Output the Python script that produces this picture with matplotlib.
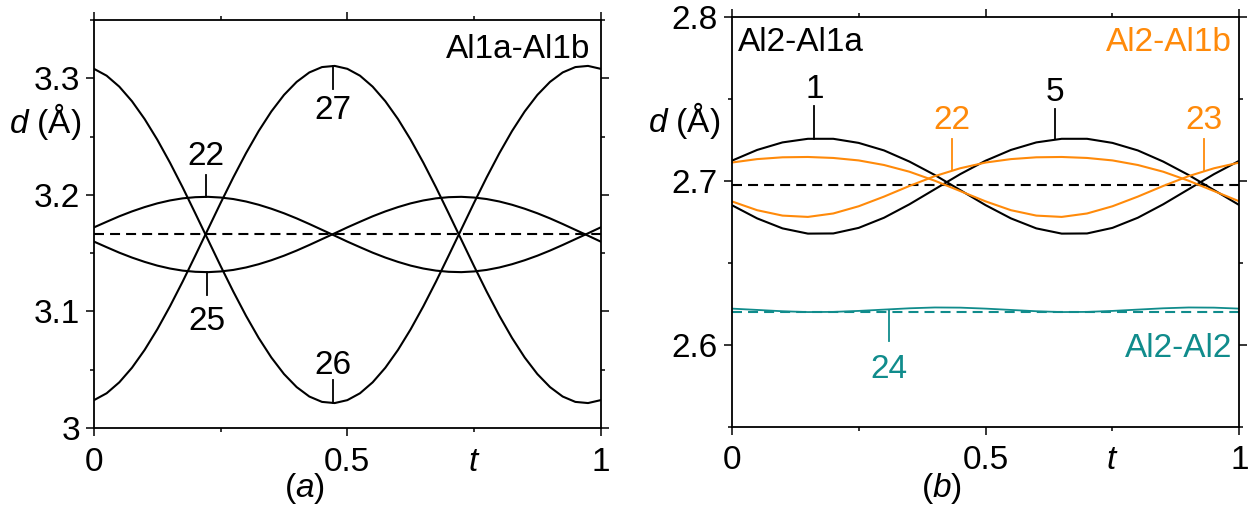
import matplotlib
matplotlib.use("Agg")
import matplotlib.pyplot as plt
from matplotlib.ticker import FixedLocator, FixedFormatter
import matplotlib.transforms as mtransforms

plt.rcParams['font.family'] = ['Liberation Sans', 'DejaVu Sans']
plt.rcParams['mathtext.fontset'] = 'custom'
plt.rcParams['mathtext.rm'] = 'Liberation Sans'
plt.rcParams['mathtext.it'] = 'Liberation Sans:italic'

# ---------------- data: panel (a) Al1a-Al1b ----------------
t_a = [0.0, 0.025, 0.05, 0.075, 0.1, 0.125, 0.15, 0.175, 0.2, 0.225,
       0.25, 0.275, 0.3, 0.325, 0.35, 0.375, 0.4, 0.425, 0.45, 0.475,
       0.5, 0.525, 0.55, 0.575, 0.6, 0.625, 0.65, 0.675, 0.7, 0.725,
       0.75, 0.775, 0.8, 0.825, 0.85, 0.875, 0.9, 0.925, 0.95, 0.975, 1.0]
d27 = [3.0239, 3.0298, 3.0392, 3.0517, 3.0670, 3.0847, 3.1044, 3.1256, 3.1479, 3.1705,
       3.1931, 3.2150, 3.2357, 3.2547, 3.2715, 3.2857, 3.2969, 3.3050, 3.3096, 3.3106,
       3.3081, 3.3022, 3.2928, 3.2803, 3.2650, 3.2473, 3.2276, 3.2064, 3.1841, 3.1615,
       3.1389, 3.1170, 3.0963, 3.0773, 3.0605, 3.0463, 3.0351, 3.0270, 3.0224, 3.0214, 3.0239]
d26 = [3.3081, 3.3022, 3.2928, 3.2803, 3.2650, 3.2473, 3.2276, 3.2064, 3.1841, 3.1615,
       3.1389, 3.1170, 3.0963, 3.0773, 3.0605, 3.0463, 3.0351, 3.0270, 3.0224, 3.0214,
       3.0239, 3.0298, 3.0392, 3.0517, 3.0670, 3.0847, 3.1044, 3.1256, 3.1479, 3.1705,
       3.1931, 3.2150, 3.2357, 3.2547, 3.2715, 3.2857, 3.2969, 3.3050, 3.3096, 3.3106, 3.3081]
d22a = [3.1721, 3.1769, 3.1816, 3.1858, 3.1895, 3.1927, 3.1952, 3.1970, 3.1980, 3.1983,
        3.1977, 3.1964, 3.1943, 3.1915, 3.1881, 3.1842, 3.1798, 3.1750, 3.1700, 3.1650,
        3.1599, 3.1551, 3.1504, 3.1462, 3.1425, 3.1393, 3.1368, 3.1350, 3.1340, 3.1337,
        3.1343, 3.1356, 3.1377, 3.1405, 3.1439, 3.1478, 3.1522, 3.1570, 3.1620, 3.1670, 3.1721]
d25 = [3.1599, 3.1551, 3.1504, 3.1462, 3.1425, 3.1393, 3.1368, 3.1350, 3.1340, 3.1337,
       3.1343, 3.1356, 3.1377, 3.1405, 3.1439, 3.1478, 3.1522, 3.1570, 3.1620, 3.1670,
       3.1721, 3.1769, 3.1816, 3.1858, 3.1895, 3.1927, 3.1952, 3.1970, 3.1980, 3.1983,
       3.1977, 3.1964, 3.1943, 3.1915, 3.1881, 3.1842, 3.1798, 3.1750, 3.1700, 3.1650, 3.1599]
ref_a = 3.166

# ---------------- data: panel (b) Al2-Al1a / Al2-Al1b / Al2-Al2 ----------------
t_b = [0.0, 0.05, 0.1, 0.15, 0.2, 0.25, 0.3, 0.35, 0.4, 0.45,
       0.5, 0.55, 0.6, 0.65, 0.7, 0.75, 0.8, 0.85, 0.9, 0.95, 1.0]
d1 = [2.7124, 2.7190, 2.7236, 2.7258, 2.7258, 2.7233, 2.7187, 2.7119, 2.7037, 2.6945,
      2.6853, 2.6772, 2.6711, 2.6679, 2.6680, 2.6714, 2.6776, 2.6858, 2.6950, 2.7042, 2.7124]
d5 = [2.6853, 2.6772, 2.6711, 2.6679, 2.6680, 2.6714, 2.6776, 2.6858, 2.6950, 2.7042,
      2.7124, 2.7190, 2.7236, 2.7258, 2.7258, 2.7233, 2.7187, 2.7119, 2.7037, 2.6945, 2.6853]
d23 = [2.7113, 2.7134, 2.7145, 2.7147, 2.7141, 2.7126, 2.7098, 2.7057, 2.7002, 2.6939,
       2.6876, 2.6822, 2.6789, 2.6781, 2.6802, 2.6846, 2.6905, 2.6970, 2.7030, 2.7078, 2.7113]
d22b = [2.6876, 2.6822, 2.6789, 2.6781, 2.6802, 2.6846, 2.6905, 2.6970, 2.7030, 2.7078,
        2.7113, 2.7134, 2.7145, 2.7147, 2.7141, 2.7126, 2.7098, 2.7057, 2.7002, 2.6939, 2.6876]
d24 = [2.6221, 2.6213, 2.6205, 2.6200, 2.6201, 2.6207, 2.6215, 2.6223, 2.6228, 2.6227,
       2.6221, 2.6213, 2.6205, 2.6200, 2.6201, 2.6207, 2.6215, 2.6223, 2.6228, 2.6227, 2.6221]
ref_b1 = 2.6974
ref_b2 = 2.6203

# ticks
xmaj_ticks = [0, 0.5, 1]
xmaj_labels = ['0', '0.5', '1']
xmin_ticks = [0.25, 0.75]
xmin_labels = ['', '$t$']
ya_major = [3.0, 3.1, 3.2, 3.3]
ya_major_labels = ['3', '3.1', '3.2', '3.3']
ya_minor = [3.05, 3.15, 3.25, 3.35]
yb_major = [2.6, 2.7, 2.8]
yb_major_labels = ['2.6', '2.7', '2.8']
yb_minor = [2.55, 2.65, 2.75]

BLACK = '#000000'
ORANGE = '#FF8A0A'
TEAL = '#108C8C'
FS = 24
LW = 1.5
DASH = (0, (4.8, 2.9))

fig = plt.figure(figsize=(12.53, 5.07), dpi=100)
axa = fig.add_axes([0.0750, 0.1558, 0.4044, 0.8048])
axb = fig.add_axes([0.5840, 0.1584, 0.4051, 0.8075])


def style(ax, ylim, ymaj, ymajlab, ymin):
    ax.set_xlim(0, 1)
    ax.set_ylim(*ylim)
    ax.xaxis.set_major_locator(FixedLocator(xmaj_ticks))
    ax.xaxis.set_major_formatter(FixedFormatter(xmaj_labels))
    ax.xaxis.set_minor_locator(FixedLocator(xmin_ticks))
    ax.xaxis.set_minor_formatter(FixedFormatter(xmin_labels))
    ax.yaxis.set_major_locator(FixedLocator(ymaj))
    ax.yaxis.set_major_formatter(FixedFormatter(ymajlab))
    ax.yaxis.set_minor_locator(FixedLocator(ymin))
    ax.tick_params(which='both', direction='out', top=True, right=True,
                   labelsize=FS, width=1.1, colors='black')
    ax.tick_params(which='major', length=6)
    ax.tick_params(which='minor', length=3)
    ax.tick_params(axis='x', which='major', pad=7.5)
    ax.tick_params(axis='x', which='minor', pad=10.5)
    ax.tick_params(axis='y', which='major', pad=4)
    for s in ax.spines.values():
        s.set_linewidth(1.3)
    ax.set_facecolor('white')


style(axa, (3.0, 3.35), ya_major, ya_major_labels, ya_minor)
style(axb, (2.55, 2.8), yb_major, yb_major_labels, yb_minor)

# ---- panel a ----
axa.axhline(ref_a, color=BLACK, lw=LW, linestyle=DASH)
for y in (d27, d26, d22a, d25):
    axa.plot(t_a, y, color=BLACK, lw=LW)


def label(ax, x, y0, y1, ytxt, s, color):
    ax.plot([x, x], [y0, y1], color=color, lw=1.3)
    ax.text(x, ytxt, s, color=color, fontsize=FS, ha='center', va='center_baseline')


label(axa, 0.221, 3.198, 3.2168, 3.2356, '22', BLACK)
label(axa, 0.471, 3.3105, 3.2911, 3.2753, '27', BLACK)
label(axa, 0.2225, 3.1334, 3.114, 3.094, '25', BLACK)
label(axa, 0.4717, 3.0212, 3.0411, 3.0568, '26', BLACK)
axa.text(0.979, 3.3273, 'Al1a-Al1b', fontsize=FS, ha='right', va='center_baseline')

ta = mtransforms.blended_transform_factory(axa.transAxes, axa.transData)
axa.text(-0.024, 3.2665, '$d$ (Å)', fontsize=FS, ha='right', va='center_baseline', transform=ta)
axa.text(0.4145, -0.1690, '($a$)', fontsize=FS, ha='center', va='baseline',
         transform=axa.transAxes)

# ---- panel b ----
axb.axhline(ref_b1, color=BLACK, lw=LW, linestyle=DASH)
axb.axhline(ref_b2, color=TEAL, lw=LW, linestyle=DASH)
axb.plot(t_b, d1, color=BLACK, lw=LW)
axb.plot(t_b, d5, color=BLACK, lw=LW)
axb.plot(t_b, d23, color=ORANGE, lw=LW)
axb.plot(t_b, d22b, color=ORANGE, lw=LW)
axb.plot(t_b, d24, color=TEAL, lw=1.3)

label(axb, 0.1627, 2.7258, 2.7458, 2.758, '1', BLACK)
label(axb, 0.637, 2.7255, 2.7438, 2.756, '5', BLACK)
label(axb, 0.4334, 2.7067, 2.7255, 2.7389, '22', ORANGE)
label(axb, 0.9305, 2.7067, 2.7255, 2.7389, '23', ORANGE)
label(axb, 0.3105, 2.6215, 2.6023, 2.5871, '24', TEAL)

axb.text(0.0124, 2.7865, 'Al2-Al1a', fontsize=FS, ha='left', va='center_baseline')
axb.text(0.985, 2.7868, 'Al2-Al1b', fontsize=FS, ha='right', va='center_baseline', color=ORANGE)
axb.text(0.9856, 2.6, 'Al2-Al2', fontsize=FS, ha='right', va='center_baseline', color=TEAL)

tb = mtransforms.blended_transform_factory(axb.transAxes, axb.transData)
axb.text(-0.023, 2.7395, '$d$ (Å)', fontsize=FS, ha='right', va='center_baseline', transform=tb)
axb.text(0.414, -0.1720, '($b$)', fontsize=FS, ha='center', va='baseline',
         transform=axb.transAxes)

fig.savefig('out.png', dpi=100, facecolor='white')
